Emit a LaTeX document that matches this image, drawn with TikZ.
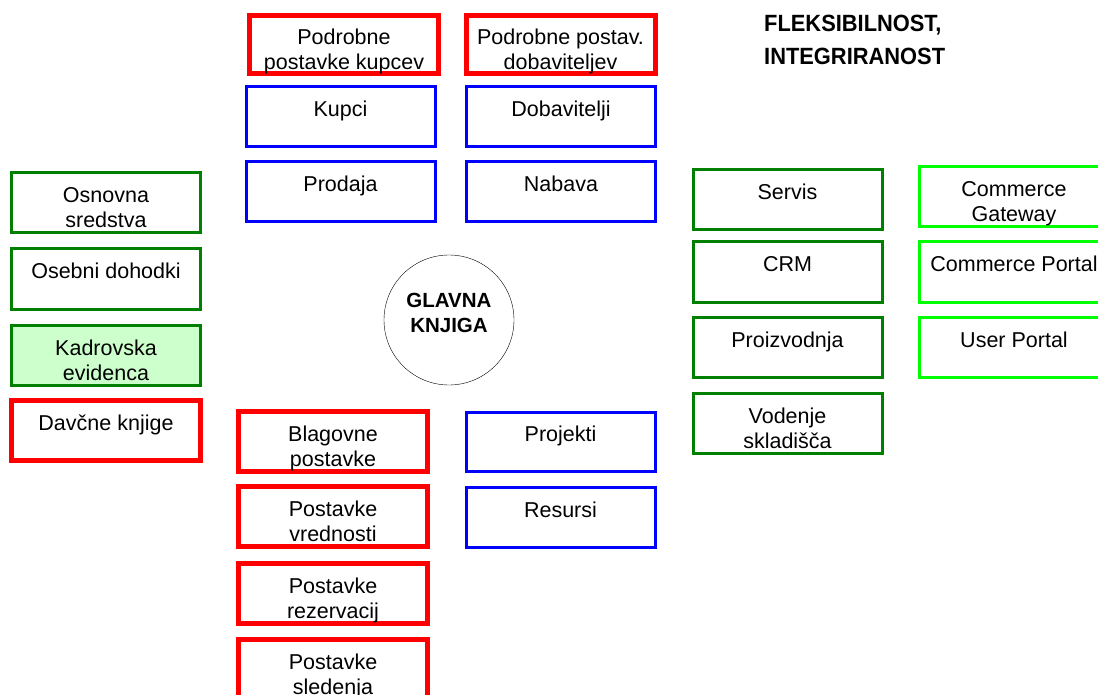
\documentclass[tikz,border=0pt]{standalone}
\usepackage{fontspec}
\setmainfont{Liberation Sans}
\newfontfamily\narrowfont[FakeStretch=0.93]{Liberation Sans}
\definecolor{darkgreen}{RGB}{0,128,0}
\definecolor{limegreen}{RGB}{0,255,0}
\definecolor{palegreen}{RGB}{204,255,204}
% lines stacked from the first baseline down
\newcommand{\twolines}[2][c]{\begin{tabular}[t]{@{}#1@{}}#2\end{tabular}}

\begin{document}
\begin{tikzpicture}[x=1pt, y=-1pt,
    box/.style = {draw, rectangle, minimum width=189, minimum height=60, inner sep=0,
        text height=20, text depth=20, font=\fontsize{21.5}{25}\selectfont},
    redbox/.style = {box, draw=red, line width=5},
    bluebox/.style = {box, draw=blue, line width=3},
    greenbox/.style = {box, draw=darkgreen, line width=3},
    limebox/.style = {box, draw=limegreen, line width=3},
    hub/.style = {draw, circle, minimum size=130, inner sep=0, text height=17, text depth=43,
        font=\bfseries\fontsize{20.5}{25}\selectfont},
    title/.style = {anchor=base west, inner sep=0, font=\narrowfont\bfseries\fontsize{23.5}{33}\selectfont}]
    \useasboundingbox (0,0) rectangle (1098,695);
    \clip (0,0) rectangle (1098,695);

    \node[title] (naslov) at (764,31.7) {\twolines[l]{FLEKSIBILNOST,\\INTEGRIRANOST}};
    \node[hub] (glavna) at (449,320) {\twolines{GLAVNA\\KNJIGA}};

    % top middle
    \node[redbox, minimum height=58] (podkupci) at (344,45) {\twolines{Podrobne\\postavke kupcev}};
    \node[redbox, minimum height=58] (poddobav) at (560.5,45) {\twolines{Podrobne postav.\\dobaviteljev}};
    \node[bluebox] (kupci) at (340.5,117) {Kupci};
    \node[bluebox] (dobavitelji) at (561,117) {Dobavitelji};
    \node[bluebox] (prodaja) at (340.5,192) {Prodaja};
    \node[bluebox] (nabava) at (561,192) {Nabava};

    % left
    \node[greenbox] (osnovna) at (106,203) {\twolines{Osnovna\\sredstva}};
    \node[greenbox] (osebni) at (106,279) {Osebni dohodki};
    \node[greenbox, fill=palegreen] (kadrovska) at (106,355) {\twolines{Kadrovska\\evidenca}};
    \node[redbox] (davcne) at (106,430.5) {Davčne knjige};

    % bottom middle
    \node[redbox] (blagovne) at (333,441.5) {\twolines{Blagovne\\postavke}};
    \node[redbox] (vrednosti) at (333,516.5) {\twolines{Postavke\\vrednosti}};
    \node[redbox] (rezervacije) at (333,593) {\twolines{Postavke\\rezervacij}};
    \node[redbox] (sledenje) at (333,669) {\twolines{Postavke\\sledenja}};
    \node[bluebox, minimum height=59] (projekti) at (560.5,441.5) {Projekti};
    \node[bluebox] (resursi) at (560.5,517) {Resursi};

    % right
    \node[greenbox] (servis) at (787.5,199.5) {Servis};
    \node[greenbox] (crm) at (787.5,272) {CRM};
    \node[greenbox] (proizvodnja) at (787.5,347.5) {Proizvodnja};
    \node[greenbox] (skladisce) at (787.5,423) {\twolines{Vodenje\\skladišča}};
    \node[limebox] (gateway) at (1014,197) {\twolines{Commerce\\Gateway}};
    \node[limebox] (portal) at (1014,272) {Commerce Portal};
    \node[limebox] (userportal) at (1014,347.5) {User Portal};
\end{tikzpicture}
\end{document}
